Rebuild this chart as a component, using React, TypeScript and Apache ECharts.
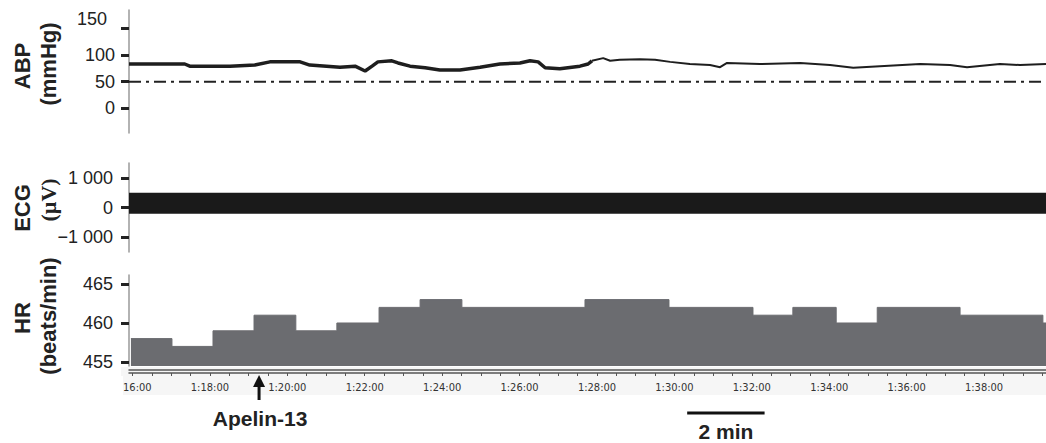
import React, { useEffect, useRef } from 'react';
import * as echarts from 'echarts';

// ---- time range (minutes since 0:00) ----
const timeMin = 75.91;
const timeMax = 99.6;

// ---- ABP (mmHg) ----
const abpTimes = [75.91, 76.45, 77.35, 77.48, 78.52, 79.16, 79.55, 80.33, 80.58, 81.36, 81.75, 82.01, 82.19, 82.34, 82.70, 82.86, 83.17, 83.56, 83.94, 84.46, 84.98, 85.49, 86.01, 86.27, 86.48, 86.66, 87.04, 87.56, 87.77, 87.87, 88.16, 88.34, 88.59, 89.11, 89.50, 89.89, 90.40, 90.92, 91.18, 91.36, 92.21, 93.25, 94.02, 94.62, 95.31, 96.35, 97.12, 97.56, 98.41, 98.93, 99.60];
const abpValues = [83, 83, 83, 79, 79, 81, 87, 87, 81, 77, 79, 70, 79, 87, 89, 85, 79, 76, 72, 72, 77, 83, 85, 89, 87, 76, 74, 79, 83, 89, 94, 89, 91, 92, 91, 87, 83, 81, 77, 85, 83, 85, 81, 76, 79, 83, 81, 77, 83, 81, 83];
const abpNoisyUntilIndex = 29;
const abpThreshold = 50;
const abpTicks = [0, 50, 100, 150];

// ---- ECG (µV) envelope ----
const ecgTicks = [-1000, 0, 1000];
const ecgUpper = 500;
const ecgLower = -210;

// ---- HR (beats/min) ----
const hrBinStarts = [75.96, 77.02, 78.08, 79.14, 80.22, 81.28, 82.37, 83.43, 84.51, 87.69, 89.86, 92.03, 93.06, 94.18, 95.24, 97.38, 99.52];
const hrValues = [458, 457, 459, 461, 459, 460, 462, 463, 462, 463, 462, 461, 462, 460, 462, 461, 460];
const hrTicks = [455, 460, 465];

// ---- time axis ----
const timeLabelTicks = [76, 78, 80, 82, 84, 86, 88, 90, 92, 94, 96, 98];
const timeMinorTicks = Array.from({ length: 48 }, (_, i) => 76 + i * 0.5);

// ---- annotations ----
const apelinTime = 79.27;
const apelinLabel = 'Apelin-13';
const scaleBarStart = 90.33;
const scaleBarLength = 2;
const scaleBarLabel = '2 min';

const SANS = "'Liberation Sans', Arial, Helvetica, sans-serif";
const SERIF = "'Liberation Serif', 'Times New Roman', serif";

function fmtThousands(v: number): string {
  if (v === 0) return '0';
  const sign = v < 0 ? '\u2212' : '';
  const a = Math.abs(v);
  const th = Math.floor(a / 1000);
  const rest = String(a % 1000).padStart(3, '0');
  return th > 0 ? `${sign}${th} ${rest}` : `${sign}${a}`;
}

function fmtTime(v: number): string {
  const h = Math.floor(v / 60);
  const m = Math.round(v - h * 60);
  return `${h}:${String(m).padStart(2, '0')}:00`;
}

export default function App() {
  const ref = useRef<HTMLDivElement>(null);

  useEffect(() => {
    const chart = echarts.init(ref.current!, null, { renderer: 'svg' });

    const abpThick = abpTimes.slice(0, abpNoisyUntilIndex + 1).map((t, i) => [t, abpValues[i]]);
    const abpThin = abpTimes.slice(abpNoisyUntilIndex).map((t, i) => [t, abpValues[i + abpNoisyUntilIndex]]);
    const hrData = hrBinStarts.map((t, i) => [t, hrValues[i]]);
    hrData.push([timeMax, hrValues[hrValues.length - 1]]);

    const yCommon = {
      axisLine: { show: true, lineStyle: { color: '#9a9a9a', width: 1.5 } },
      splitLine: { show: false },
    };
    const tickStyle = { show: true, length: 8, lineStyle: { color: '#222', width: 3 } };
    const labelStyle = { fontSize: 18, color: '#222', fontFamily: SANS };

    const hiddenX = (gi: number) => ({
      type: 'value', gridIndex: gi, min: timeMin, max: timeMax, show: false,
    });

    const option: any = {
      animation: false,
      backgroundColor: '#ffffff',
      grid: [
        { left: 129, right: 0, top: 10, height: 123 },
        { left: 129, right: 0, top: 163, height: 89 },
        { left: 129, right: 0, top: 275, height: 91 },
        { left: 129, right: 0, top: 370, height: 3 },
      ],
      xAxis: [
        hiddenX(0),
        hiddenX(1),
        hiddenX(2),
        {
          type: 'value', gridIndex: 3, min: timeMin, max: timeMax, position: 'bottom',
          axisLine: { show: true, lineStyle: { color: '#555', width: 1.5 } },
          axisTick: { show: true, customValues: timeMinorTicks, length: 3, inside: false, lineStyle: { color: '#555', width: 1 } },
          axisLabel: {
            customValues: timeLabelTicks, formatter: (v: number) => fmtTime(v), margin: 9,
            fontSize: 11, color: '#333', fontFamily: "'DejaVu Sans Condensed', 'DejaVu Sans', sans-serif",
          },
          splitLine: { show: false },
        },
        {
          type: 'value', gridIndex: 3, min: timeMin, max: timeMax, position: 'top',
          axisLine: { show: true, lineStyle: { color: '#555', width: 1.5 } },
          axisTick: { show: false }, axisLabel: { show: false }, splitLine: { show: false },
        },
      ],
      yAxis: [
        {
          type: 'value', gridIndex: 0, min: -46, max: 184, ...yCommon,
          axisTick: { ...tickStyle, customValues: abpTicks },
          axisLabel: {
            ...labelStyle, customValues: abpTicks, margin: 14,
            verticalAlignMaxLabel: 'bottom',
            formatter: (v: number) => (v === 150 ? '{s|150}' : String(v)),
            rich: { s: { fontSize: 18, color: '#222', fontFamily: SANS, padding: [0, 8, 0, 0] } },
          },
        },
        {
          type: 'value', gridIndex: 1, min: -1500, max: 1500, ...yCommon,
          axisTick: { ...tickStyle, customValues: ecgTicks },
          axisLabel: { ...labelStyle, customValues: ecgTicks, margin: 16, formatter: (v: number) => fmtThousands(v) },
        },
        {
          type: 'value', gridIndex: 2, min: 454.49, max: 466.15, ...yCommon,
          axisTick: { ...tickStyle, customValues: hrTicks },
          axisLabel: { ...labelStyle, customValues: hrTicks, margin: 16 },
        },
        { type: 'value', gridIndex: 3, show: false, min: 0, max: 1 },
      ],
      series: [
        {
          name: 'ABP noisy', type: 'line', xAxisIndex: 0, yAxisIndex: 0, data: abpThick,
          showSymbol: false, lineStyle: { color: '#1e1e1e', width: 3.5 }, z: 3,
        },
        {
          name: 'ABP', type: 'line', xAxisIndex: 0, yAxisIndex: 0, data: abpThin,
          showSymbol: false, lineStyle: { color: '#1e1e1e', width: 2 }, z: 3,
        },
        {
          name: 'ABP 50', type: 'line', xAxisIndex: 0, yAxisIndex: 0,
          data: [[timeMin, abpThreshold], [timeMax, abpThreshold]],
          showSymbol: false, lineStyle: { color: '#222', width: 2, type: [12, 5, 3, 5] },
        },
        {
          name: 'ECG', type: 'custom', xAxisIndex: 1, yAxisIndex: 1,
          data: [[timeMin, timeMax, ecgLower, ecgUpper]],
          encode: { x: [0, 1], y: [2, 3] },
          renderItem: (_params: any, api: any) => {
            const p0 = api.coord([api.value(0), api.value(3)]);
            const p1 = api.coord([api.value(1), api.value(2)]);
            return {
              type: 'rect',
              shape: { x: p0[0], y: p0[1], width: p1[0] - p0[0], height: p1[1] - p0[1] },
              style: { fill: '#1a1a1a' },
            };
          },
        },
        {
          name: 'HR', type: 'line', xAxisIndex: 2, yAxisIndex: 2, data: hrData, step: 'end',
          showSymbol: false, lineStyle: { color: '#6b6c70', width: 1 },
          areaStyle: { color: '#6b6c70', opacity: 1, origin: 'start' },
        },
      ],
    };

    chart.setOption(option);

    const ax = chart.convertToPixel({ xAxisIndex: 3 }, apelinTime) as number;
    const sb0 = chart.convertToPixel({ xAxisIndex: 3 }, scaleBarStart) as number;
    const sb1 = chart.convertToPixel({ xAxisIndex: 3 }, scaleBarStart + scaleBarLength) as number;

    const title = (text: string, x: number, y: number, font = SANS) => ({
      type: 'text', x, y, rotation: Math.PI / 2, z: 60,
      style: {
        text, fill: '#222', font: `bold 22px ${font}`,
        textAlign: 'center', textVerticalAlign: 'middle',
      },
    });

    chart.setOption({
      graphic: [
        { type: 'rect', z: -1, shape: { x: 121, y: 367, width: 925, height: 28 }, style: { fill: '#f6f6f6' } },
        { type: 'rect', z: 50, shape: { x: 0, y: 376, width: 123, height: 22 }, style: { fill: '#ffffff' } },
        title('ABP', 22, 66),
        title('(mmHg)', 48, 64),
        title('ECG', 22, 208),
        title('(\u00b5V)', 48, 200, SERIF),
        title('HR', 22, 318),
        title('(beats/min)', 48, 316),
        {
          type: 'polygon', z: 60,
          shape: { points: [[ax, 375], [ax - 6, 387], [ax + 6, 387]] },
          style: { fill: '#111' },
        },
        {
          type: 'line', z: 60,
          shape: { x1: ax, y1: 385, x2: ax, y2: 400 },
          style: { stroke: '#111', lineWidth: 3 },
        },
        {
          type: 'text', z: 60, x: ax + 1, y: 418,
          style: { text: apelinLabel, fill: '#222', font: `bold 21px ${SANS}`, textAlign: 'center', textVerticalAlign: 'middle' },
        },
        {
          type: 'line', z: 60,
          shape: { x1: sb0, y1: 413, x2: sb1, y2: 413 },
          style: { stroke: '#111', lineWidth: 3 },
        },
        {
          type: 'text', z: 60, x: (sb0 + sb1) / 2, y: 431,
          style: { text: scaleBarLabel, fill: '#222', font: `bold 21px ${SANS}`, textAlign: 'center', textVerticalAlign: 'middle' },
        },
      ],
    });

    return () => chart.dispose();
  }, []);

  return (
    <div
      ref={ref}
      style={{ position: 'fixed', left: 0, top: 0, width: 1046, height: 443, background: '#fff' }}
    />
  );
}
